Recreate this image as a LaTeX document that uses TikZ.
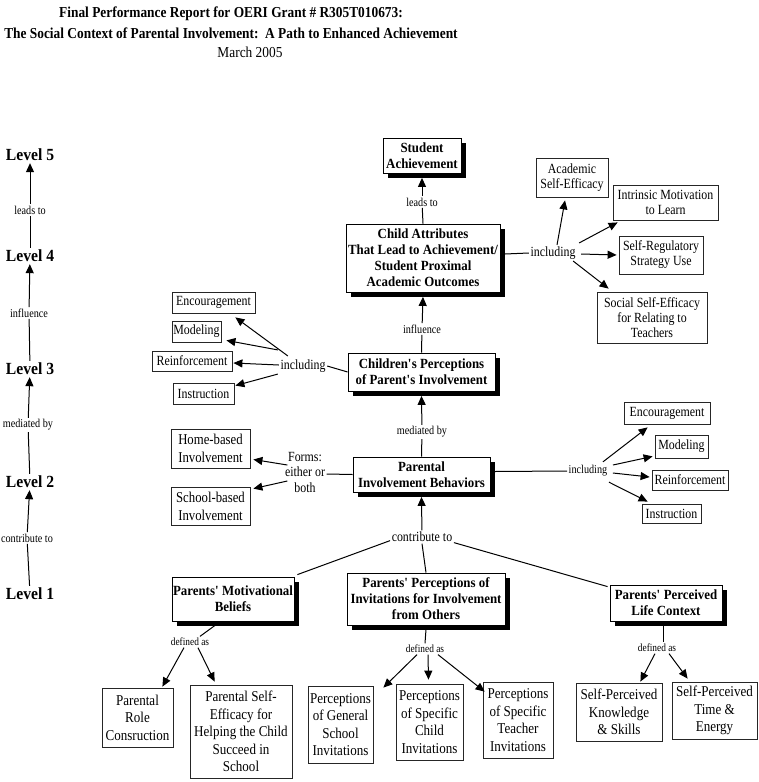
\documentclass[tikz,border=0pt]{standalone}
\usepackage{fontspec}
\setmainfont{Liberation Serif}
\newfontfamily\cnd[FakeStretch=0.85]{Liberation Serif}
\newfontfamily\cndB[FakeStretch=0.87]{Liberation Serif}
\newfontfamily\cndb[FakeStretch=0.92]{Liberation Serif}
\newfontfamily\ttl[FakeStretch=0.88]{Liberation Serif}
\usetikzlibrary{arrows.meta,shadows,calc}
\newcommand{\qq}{\textquotesingle}
\begin{document}
\begin{tikzpicture}[x=1pt,y=-1pt,
  box/.style={draw=black!85, line width=0.8pt, fill=white, align=center, inner sep=1pt,
    font=\cnd\fontsize{14}{15}\selectfont},
  bbox/.style={box, font=\cndB\fontsize{15}{17.5}\selectfont},
  sbox/.style={draw=black, line width=0.8pt, fill=white, align=center, inner sep=1pt,
    font=\cndb\bfseries\fontsize{14}{16}\selectfont,
    drop shadow={shadow xshift=4.5pt, shadow yshift=-4.5pt, fill=black, opacity=1}},
  lab/.style={inner sep=1.5pt, align=center, font=\cnd\fontsize{12}{13}\selectfont},
  labL/.style={inner sep=1.5pt, align=center, font=\cnd\fontsize{14}{15.5}\selectfont},
  labS/.style={inner sep=1.5pt, align=center, font=\cnd\fontsize{11}{12}\selectfont},
  lvl/.style={inner sep=2pt, font=\cndb\bfseries\fontsize{17}{18}\selectfont},
  ln/.style={line width=1pt},
  arr/.style={line width=1pt, -{Triangle[length=9pt,width=8pt]}}]
\fill[white] (0,0) rectangle (759,782);
\useasboundingbox (0,0) rectangle (759,782);

% title
\node[font=\ttl\bfseries\fontsize{15.2}{16}\selectfont] (t1) at (231,14) {Final Performance Report for OERI Grant \# R305T010673:};
\node[font=\ttl\bfseries\fontsize{15.2}{16}\selectfont] (t2) at (231,33) {The Social Context of Parental Involvement:\ \ A Path to Enhanced Achievement};
\node[font=\ttl\fontsize{15.2}{16}\selectfont] (t3) at (250,52) {March 2005};

% level column
\node[lvl] (L5) at (30,155) {Level 5};
\node[lvl] (L4) at (30,256) {Level 4};
\node[lvl] (L3) at (30,369) {Level 3};
\node[lvl] (L2) at (30,482) {Level 2};
\node[lvl] (L1) at (30,594) {Level 1};
\node[lab] (k45) at (30,210) {leads to};
\node[lab] (k34) at (29,313) {influence};
\node[lab] (k23) at (28,425) {mediated by};
\node[lab] (k12) at (27,538) {contribute to};
\draw[ln] (L4) -- (k45); \draw[arr] (k45) -- (L5);
\draw[ln] (L3) -- (k34); \draw[arr] (k34) -- (L4);
\draw[ln] (L2) -- (k23); \draw[arr] (k23) -- (L3);
\draw[ln] (L1) -- (k12); \draw[arr] (k12) -- (L2);

% central spine
\node[sbox, minimum width=78, minimum height=35] (sa) at (422,155.5) {Student\\Achievement};
\node[sbox, minimum width=154, minimum height=68] (ca) at (423,258) {Child Attributes\\That Lead to Achievement/\\Student Proximal\\Academic Outcomes};
\node[sbox, minimum width=147, minimum height=38] (cp) at (421.5,372) {Children\qq s Perceptions\\of Parent\qq s Involvement};
\node[sbox, minimum width=137, minimum height=35] (pb) at (421.5,474.5) {Parental\\Involvement Behaviors};
\node[lab] (c1) at (422,202) {leads to};
\node[lab] (c2) at (422,329) {influence};
\node[lab] (c3) at (422,432) {mediated by};
\node[labL] (cont) at (422,537) {contribute to};
\draw[ln] (ca.north) -- (c1); \draw[arr] (c1) -- ($(sa.south)+(0,4.5)$);
\draw[ln] (cp.north) -- (c2); \draw[arr] (c2) -- ($(ca.south)+(0,4.5)$);
\draw[ln] (pb.north) -- (c3); \draw[arr] (c3) -- ($(cp.south)+(0,4.5)$);
\draw[arr] (cont) -- ($(pb.south)+(0,4.5)$);

% top right
\node[labL] (inc1) at (553,253) {including};
\node[box, minimum width=72, minimum height=39] (ase) at (572,177.5) {Academic\\Self-Efficacy};
\node[box, minimum width=105, minimum height=35] (imo) at (665.5,202.5) {Intrinsic Motivation\\to Learn};
\node[box, minimum width=84, minimum height=38] (srs) at (661,255) {Self-Regulatory\\Strategy Use};
\node[box, minimum width=110, minimum height=51] (sse) at (652,317.5) {Social Self-Efficacy\\for Relating to\\Teachers};
\draw[ln] ($(ca.east)+(4.5,-4)$) -- (inc1.west);
\draw[arr] ($(inc1.north)+(4,0)$) -- ($(ase.south)+(-7,3)$);
\draw[arr] ($(inc1.north east)+(2,-2)$) -- ($(imo.south west)+(5,2)$);
\draw[arr] ($(inc1.east)+(4,1)$) -- ($(srs.west)+(-2,0)$);
\draw[arr] ($(inc1.south east)+(-4,0)$) -- ($(sse.north west)+(12,-3)$);

% middle left
\node[labL] (inc2) at (303,366) {including};
\node[box, minimum width=83, minimum height=21] (enc1) at (213.5,302.5) {Encouragement};
\node[box, minimum width=49, minimum height=21] (mod1) at (196.5,331.5) {Modeling};
\node[box, minimum width=80, minimum height=20] (rei1) at (192,361) {Reinforcement};
\node[box, minimum width=61, minimum height=21] (ins1) at (203.5,393.5) {Instruction};
\draw[ln] (cp.west) -- (inc2.east);
\draw[arr] ($(inc2.north west)+(9,-2)$) -- ($(enc1.south east)+(-20,4)$);
\draw[arr] ($(inc2.north west)+(-1,-8)$) -- ($(mod1.south east)+(5,-2)$);
\draw[arr] ($(inc2.west)+(0,-1)$) -- ($(rei1.east)+(1,2)$);
\draw[arr] ($(inc2.south west)+(-1,0)$) -- ($(ins1.north east)+(1,3)$);

% forms
\node[labL] (forms) at (305,472) {Forms:\\either or\\both};
\node[box, font=\cnd\fontsize{15}{18}\selectfont, minimum width=79, minimum height=39] (hb) at (210.5,448.5) {Home-based\\Involvement};
\node[box, font=\cnd\fontsize{15}{18}\selectfont, minimum width=79, minimum height=38] (sb) at (210.5,506) {School-based\\Involvement};
\draw[ln] (pb.west) -- ($(forms.east)+(0,2)$);
\draw[arr] ($(forms.west)+(4,-7)$) -- ($(hb.east)+(3,11)$);
\draw[arr] ($(forms.west)+(4,9)$) -- ($(sb.north east)+(3,2)$);

% middle right
\node[lab] (inc3) at (588,471) {including};
\node[box, minimum width=86, minimum height=22] (enc2) at (667,413) {Encouragement};
\node[box, minimum width=53, minimum height=23] (mod2) at (681.5,446.5) {Modeling};
\node[box, minimum width=76, minimum height=20] (rei2) at (690,480) {Reinforcement};
\node[box, minimum width=59, minimum height=19] (ins2) at (671.5,513.5) {Instruction};
\draw[ln] ($(pb.east)+(4.5,-3)$) -- (inc3.west);
\draw[arr] ($(inc3.north east)+(-6,-2)$) -- ($(enc2.south west)+(24,3)$);
\draw[arr] ($(inc3.east)+(4,-6)$) -- ($(mod2.south west)+(-2,-2)$);
\draw[arr] ($(inc3.east)+(4,2)$) -- ($(rei2.west)+(-2,-3)$);
\draw[arr] ($(inc3.south east)+(0,4)$) -- ($(ins2.north west)+(6,-2)$);

% bottom row of factors
\node[sbox, minimum width=122, minimum height=44] (pmb) at (233,599) {Parents\qq\ Motivational\\Beliefs};
\node[sbox, minimum width=158, minimum height=52] (pin) at (426,599) {Parents\qq\ Perceptions of\\Invitations for Involvement\\from Others};
\node[sbox, minimum width=112, minimum height=36] (plc) at (666,603) {Parents\qq\ Perceived\\Life Context};
\draw[ln] ($(cont.south west)+(0,-3)$) -- ($(pmb.north east)+(3,-2)$);
\draw[ln] (cont.south) -- (pin.north);
\draw[ln] ($(cont.south east)+(0,-1)$) -- ($(plc.north west)+(-2,2)$);

% defined as
\node[labS] (d1) at (190,642) {defined as};
\node[labS] (d2) at (425,649) {defined as};
\node[labS] (d3) at (657,648) {defined as};
\draw[ln] ($(pmb.south)+(-18,4)$) -- ($(d1.north)+(10,0)$);
\draw[ln] ($(pin.south)+(0,4)$) -- (d2.north);
\draw[ln] ($(plc.south)+(-3,4)$) -- ($(d3.north)+(6,0)$);

\node[bbox, minimum width=71, minimum height=59] (prc) at (137.5,717.5) {Parental\\Role\\Consruction};
\node[bbox, minimum width=102, minimum height=93] (pse) at (241,731.5) {Parental Self-\\Efficacy for\\Helping the Child\\Succeed in\\School};
\node[bbox, minimum width=65, minimum height=77] (pgs) at (340.5,724.5) {Perceptions\\of General\\School\\Invitations};
\node[bbox, minimum width=67, minimum height=76] (pcs) at (429.5,722) {Perceptions\\of Specific\\Child\\Invitations};
\node[bbox, minimum width=70, minimum height=76] (pts) at (518,720) {Perceptions\\of Specific\\Teacher\\Invitations};
\node[bbox, minimum width=86, minimum height=58] (spk) at (619,712) {Self-Perceived\\Knowledge\\\& Skills};
\node[bbox, minimum width=85, minimum height=57] (spt) at (714.5,710.5) {Self-Perceived\\Time \&\\Energy};

\draw[arr] ($(d1.south)+(-6,0)$) -- ($(prc.north east)+(-11,-1)$);
\draw[arr] ($(d1.south)+(8,0)$) -- ($(pse.north west)+(25,-3)$);
\draw[arr] ($(d2.south)+(-8,0)$) -- ($(pgs.north east)+(10,2)$);
\draw[arr] ($(d2.south)+(3,0)$) -- ($(pcs.north)+(-1,-4)$);
\draw[arr] ($(d2.south)+(13,0)$) -- ($(pts.north west)+(2,10)$);
\draw[arr] ($(d3.south)+(-2,0)$) -- ($(spk.north east)+(-22,-1)$);
\draw[arr] ($(d3.south)+(12,0)$) -- ($(spt.north west)+(16,-3)$);
\end{tikzpicture}
\end{document}
